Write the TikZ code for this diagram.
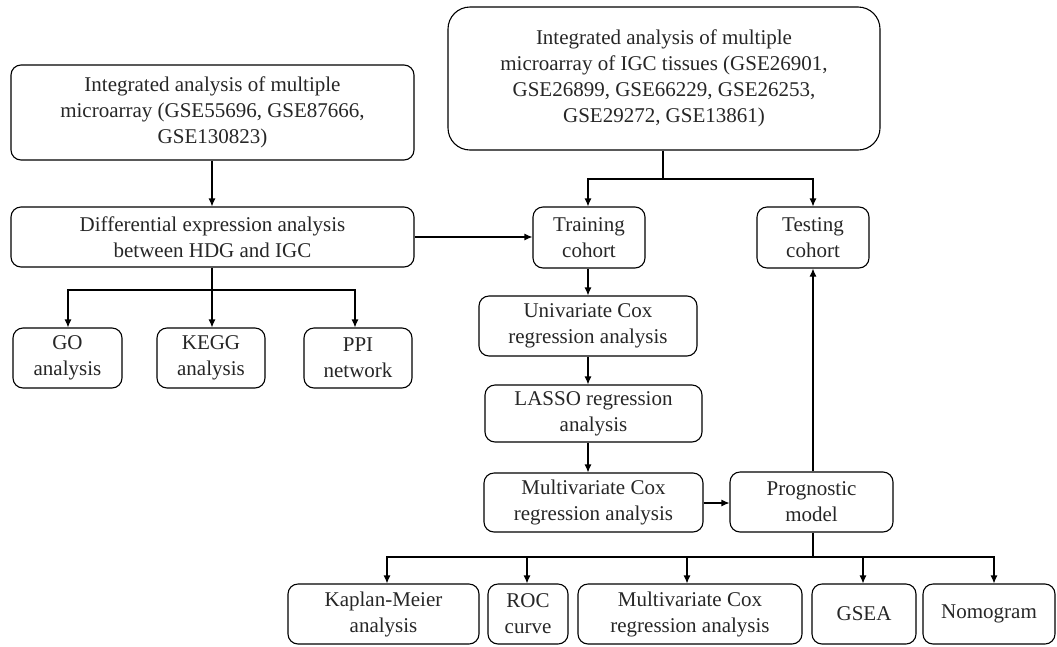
\documentclass[tikz,border=0pt]{standalone}
\usepackage{fontspec}
\setmainfont{Liberation Serif}
\usetikzlibrary{arrows.meta}
\begin{document}
\begin{tikzpicture}[x=1pt,y=-1pt,
  box/.style={draw,line width=1.1pt,rounded corners=10pt,align=center,inner sep=0pt,
    font=\fontsize{21}{26}\selectfont,text=black!85},
  bigbox/.style={box,rounded corners=22pt},
  arr/.style={line width=1.1pt,-{Latex[length=8pt,width=7pt]}},
  ln/.style={line width=1.1pt}]
\useasboundingbox (0,0) rectangle (1057,646);
% left branch
\node[box,minimum width=403pt,minimum height=95pt] (A) at (212.5,112.5) {Integrated analysis of multiple\\microarray (GSE55696, GSE87666,\\GSE130823)};
\node[box,minimum width=403pt,minimum height=60pt] (B) at (212.5,237) {Differential expression analysis\\between HDG and IGC};
\node[box,minimum width=109pt,minimum height=60pt] (GO) at (67.5,358) {GO\\analysis};
\node[box,minimum width=108pt,minimum height=60pt] (KE) at (211,358) {KEGG\\analysis};
\node[box,minimum width=108pt,minimum height=60pt] (PPI) at (358,358) {PPI\\network};
% right branch
\node[bigbox,minimum width=432pt,minimum height=143pt] (C) at (664,78.5) {Integrated analysis of multiple\\microarray of IGC tissues (GSE26901,\\GSE26899, GSE66229, GSE26253,\\GSE29272, GSE13861)};
\node[box,minimum width=112pt,minimum height=61pt] (T) at (589,237.5) {Training\\cohort};
\node[box,minimum width=112pt,minimum height=61pt] (S) at (813,237.5) {Testing\\cohort};
\node[box,minimum width=218pt,minimum height=60pt] (U) at (588,326) {Univariate Cox\\regression analysis};
\node[box,minimum width=217pt,minimum height=57pt] (L) at (593.5,413.5) {LASSO regression\\analysis};
\node[box,minimum width=219pt,minimum height=59pt] (M) at (593.5,502.5) {Multivariate Cox\\regression analysis};
\node[box,minimum width=163pt,minimum height=60pt] (P) at (811.5,502) {Prognostic\\model};
% bottom row
\node[box,minimum width=191pt,minimum height=60pt] (K) at (383.5,614) {Kaplan-Meier\\analysis};
\node[box,minimum width=80pt,minimum height=60pt] (R) at (528,614) {ROC\\curve};
\node[box,minimum width=224pt,minimum height=60pt] (M2) at (690,614) {Multivariate Cox\\regression analysis};
\node[box,minimum width=104pt,minimum height=60pt] (G) at (864,614) {GSEA};
\node[box,minimum width=132pt,minimum height=60pt] (N) at (989,614) {Nomogram};
% junction coordinates
\coordinate (j1) at (212,290);
\coordinate (j2) at (663,179);
\coordinate (j3) at (813,557);
% connectors left
\draw[arr] (A.south -| j1) -- (B.north -| j1);
\draw[ln] (B.south -| j1) -- (j1);
\draw[arr] (j1) -- (KE.north -| j1);
\draw[arr] (j1) -- (68,290) -- (GO.north -| 68,0);
\draw[arr] (j1) -- (355,290) -- (PPI.north -| 355,0);
\draw[arr] (B.east) -- (T.west |- B.east);
% connectors right
\draw[ln] (C.south -| j2) -- (j2);
\draw[arr] (j2) -- (588,179) -- (T.north -| 588,0);
\draw[arr] (j2) -- (813,179) -- (S.north -| 813,0);
\draw[arr] (T.south -| 588,0) -- (U.north -| 588,0);
\draw[arr] (U.south -| 588,0) -- (L.north -| 588,0);
\draw[arr] (L.south -| 588,0) -- (M.north -| 588,0);
\draw[arr] (M.east |- 0,503) -- (P.west |- 0,503);
\draw[arr] (P.north -| 813,0) -- (S.south -| 813,0);
% bottom fan
\draw[ln] (P.south -| j3) -- (j3);
\draw[arr] (j3) -- (387,557) -- (K.north -| 387,0);
\draw[arr] (j3) -- (527,557) -- (R.north -| 527,0);
\draw[arr] (j3) -- (687,557) -- (M2.north -| 687,0);
\draw[arr] (j3) -- (863,557) -- (G.north -| 863,0);
\draw[arr] (j3) -- (994,557) -- (N.north -| 994,0);
\end{tikzpicture}
\end{document}
